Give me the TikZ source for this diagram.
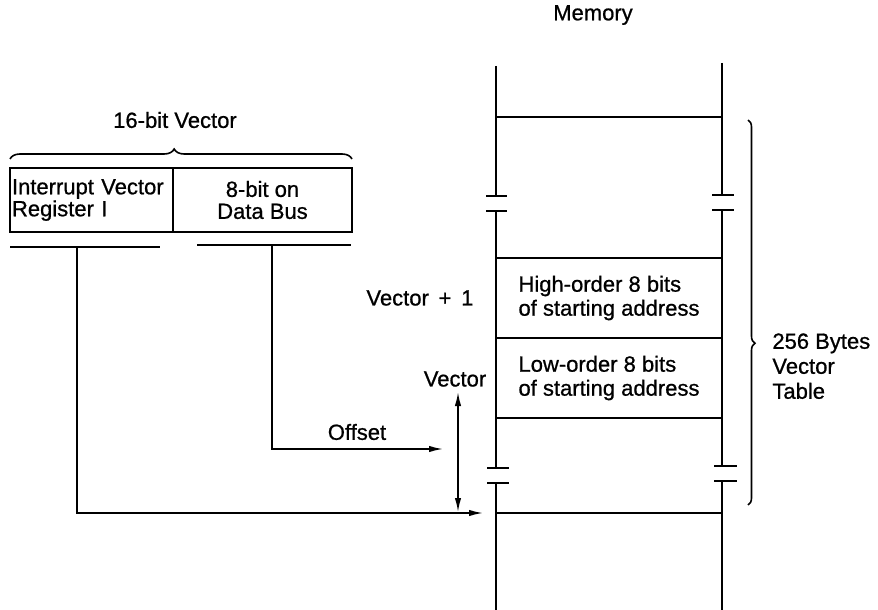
\documentclass[tikz,border=0pt]{standalone}
\usepackage{fontspec}
\setmainfont{Liberation Sans}[FakeBold=0.8]
\usetikzlibrary{arrows.meta,decorations.pathreplacing}
\begin{document}
\begin{tikzpicture}[x=0.5pt,y=-0.5pt,
  txt/.style={font=\fontsize{11}{11.5}\selectfont, inner sep=0pt},
  memline/.style={line width=1.3pt},
  conn/.style={line width=0.8pt},
  arr/.style={conn,-{Latex[length=7pt,width=3.2pt]}},
  darr/.style={conn,{Latex[length=7pt,width=3.2pt]}-{Latex[length=7pt,width=3.2pt]}},
  regbox/.style={draw, line width=1.3pt, minimum height=32pt, inner sep=1pt,
    font=\fontsize{11}{11}\selectfont},
  cellbox/.style={draw, line width=1.3pt, minimum width=113pt, minimum height=40pt,
    inner sep=0pt, align=left, font=\fontsize{11}{12}\selectfont},
  bracestyle/.style={line width=0.8pt, decorate},
]
\useasboundingbox (0,0) rectangle (878,610);

% ---- register boxes ----
\node[regbox, minimum width=81.5pt, text width=79.5pt, align=left] (reg) at (91.5,200)
  {Interrupt Vector\\Register I};
\node[regbox, minimum width=89.5pt, align=center] (dbus) at (262.5,200)
  {8-bit on\\Data Bus};
\node[txt] (title) at (175,120) {16-bit Vector};
\draw[bracestyle, decoration={brace, amplitude=5pt, aspect=0.48}]
  (10,159) -- (352,159);

% bars under the boxes
\coordinate (rbL) at (10,247);  \coordinate (rbR) at (160,247);
\coordinate (dbL) at (197,245); \coordinate (dbR) at (351,245);
\draw[conn, line width=1pt] (rbL) -- (rbR);
\draw[conn, line width=1pt] (dbL) -- (dbR);
\coordinate (regbar) at (77,247);
\coordinate (dbbar) at (272,245);

% ---- memory ----
\node[txt] (memory) at (593,15) {Memory};
\node[cellbox] (high) at (609,298) {High-order 8 bits\\of starting address};
\node[cellbox] (low) at (609,378) {Low-order 8 bits\\of starting address};
\draw[memline] (496,117) -- (722,117);
\draw[memline] (496,513) -- (722,513);
% left column
\draw[memline] (496,66) -- (496,196);
\draw[memline] (486,196) -- (507,196);
\draw[memline] (486,211) -- (507,211);
\draw[memline] (496,211) -- (496,468);
\draw[memline] (487,468) -- (509,468);
\draw[memline] (487,483) -- (509,483);
\draw[memline] (496,483) -- (496,610);
% right column
\draw[memline] (722,63) -- (722,195);
\draw[memline] (712,195) -- (734,195);
\draw[memline] (712,210) -- (734,210);
\draw[memline] (722,210) -- (722,466);
\draw[memline] (714,466) -- (737,466);
\draw[memline] (714,481) -- (737,481);
\draw[memline] (722,481) -- (722,610);

% right brace
\draw[bracestyle, decoration={brace, amplitude=3.5pt, aspect=0.58}]
  (748,120) -- (748,505);
\node[txt, anchor=north west, align=left, font=\fontsize{11}{12.5}\selectfont]
  (table) at (772,333) {256 Bytes\\Vector\\Table};

% ---- labels ----
\node[txt] (vp1) at (420,298) {Vector \,+\, 1};
\node[txt] (vec) at (455,379) {Vector};
\node[txt] (off) at (357,432) {Offset};

% ---- connectors ----
\coordinate (offtip) at (443,449);
\coordinate (vectip) at (483,513);
\draw[arr] (dbbar) |- (offtip);
\draw[arr] (regbar) |- (vectip);
\coordinate (vtop) at (458,392);
\coordinate (vbot) at (458,512);
\draw[darr] (vtop) -- (vbot);
\end{tikzpicture}
\end{document}
